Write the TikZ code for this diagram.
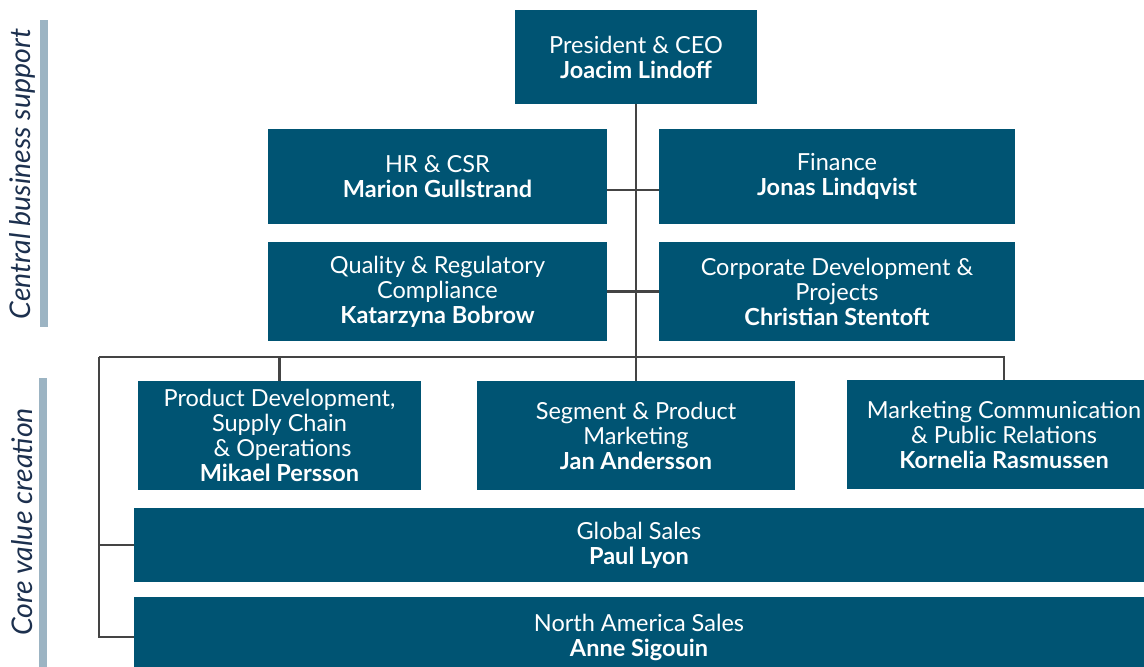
\documentclass[tikz,border=0pt]{standalone}
\usepackage{fontspec}
\setmainfont{Lato}
\usepackage{tikz}
\usetikzlibrary{positioning,calc}
\usepackage{xcolor}
\definecolor{cBox}{RGB}{0,84,115}
\definecolor{cLine}{RGB}{68,68,68}
\definecolor{cBar}{RGB}{156,180,195}
\definecolor{cSide}{RGB}{28,48,78}

\begin{document}
\begin{tikzpicture}[
  x=1pt, y=-1pt,
  box/.style={
    fill=cBox, text=white, inner sep=0pt, align=center,
    font=\fontsize{23.5}{25}\selectfont
  },
  conn/.style={draw=cLine, line width=2.8pt},
  bar/.style={fill=cBar},
  side/.style={font=\fontsize{28.5}{32}\selectfont\itshape, text=cSide, rotate=90}
]
\useasboundingbox (0,0) rectangle (1144,667);

% Side labels
\fill[bar] (40,20) rectangle (48,327);
\fill[bar] (39,378) rectangle (47,667);
\node[side] (lblcbs) at (22,174) {Central business support};
\node[side] (lblcvc) at (22,522) {Core value creation};

% Central business support
\node[box, minimum width=242pt, minimum height=94pt] (ceo) at (636,57)
  {President \& CEO\\\textbf{Joacim Lindoff}};
\node[box, minimum width=339pt, minimum height=95pt] (hr) at (437.5,176.5)
  {HR \& CSR\\\textbf{Marion Gullstrand}};
\node[box, minimum width=356pt, minimum height=95pt] (fin) at (837,176.5)
  {Finance\\\textbf{Jonas Lindqvist}};
\node[box, minimum width=339pt, minimum height=99pt] (qrc) at (437.5,291.5)
  {Quality \& Regulatory\\Compliance\\\textbf{Katarzyna Bobrow}};
\node[box, minimum width=356pt, minimum height=99pt] (cdp) at (837,291.5)
  {Corporate Development \&\\Projects\\\textbf{Christian Stentoft}};

% Core value creation
\node[box, minimum width=283pt, minimum height=109pt] (pd) at (279.5,435.5)
  {Product Development,\\Supply Chain\\\ \& Operations\\\textbf{Mikael Persson}};
\node[box, minimum width=318pt, minimum height=109pt] (spm) at (636,435.5)
  {Segment \& Product\\Marketing\\\textbf{Jan Andersson}};
\node[box, minimum width=314pt, minimum height=109pt] (mc) at (1004,434.5)
  {Marketing Communication\\\& Public Relations\\\textbf{Kornelia Rasmussen}};
\node[box, minimum width=1010pt, minimum height=74pt] (gs) at (639,545)
  {Global Sales\\\textbf{Paul Lyon}};
\node[box, minimum width=1010pt, minimum height=80pt] (na) at (639,637)
  {North America Sales\\\textbf{Anne Sigouin}};

% Connectors
\coordinate (busL) at (99,357);
\draw[conn] (ceo.south) -- (spm.north);
\draw[conn] ([yshift=-13.5pt]hr.east) -- ([yshift=-13.5pt]fin.west);
\draw[conn] (qrc.east) -- (cdp.west);
\draw[conn] (busL) -| (mc.north);
\draw[conn] (pd.north) -- (pd.north |- busL);
\draw[conn] (busL) |- (na.west);
\draw[conn] (busL |- gs.west) -- (gs.west);

\end{tikzpicture}
\end{document}
